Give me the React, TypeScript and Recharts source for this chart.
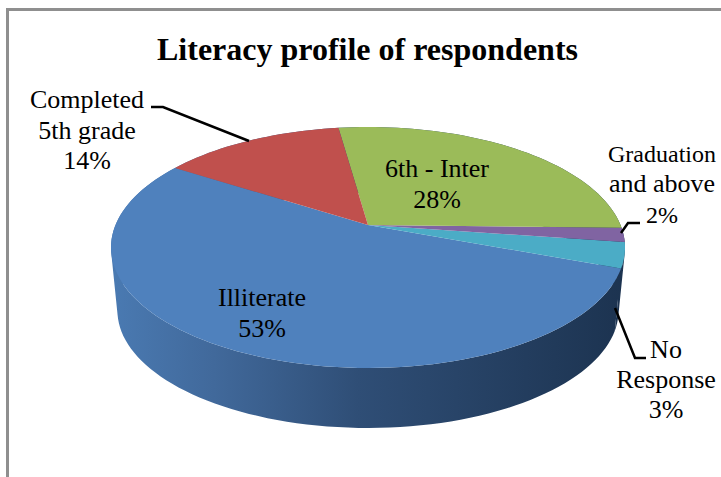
import React from 'react';
import { PieChart, Pie } from 'recharts';

const categories = ['Illiterate', 'No Response', 'Graduation and above', '6th - Inter', 'Completed 5th grade'];
const shares = [53.4, 3.4, 1.9, 27.6, 13.7];
const sliceColors = ['#4f81bd', '#4bacc6', '#8064a2', '#9bbb59', '#c0504d'];

const data = categories.map((name, i) => ({ name, value: shares[i], fill: sliceColors[i] }));

// label lines and where they sit, the pie itself comes from the scales
const labelLayout: Record<string, { x: number; ys: number[]; lines: string[]; sizes: number[] }> = {
  'Illiterate': { x: 262, ys: [306, 337], lines: ['Illiterate'], sizes: [26, 26] },
  'No Response': { x: 666, ys: [358, 388, 418], lines: ['No', 'Response'], sizes: [26, 26, 26] },
  'Graduation and above': { x: 662, ys: [162, 192, 223], lines: ['Graduation', 'and above'], sizes: [24, 26, 24] },
  '6th - Inter': { x: 437, ys: [177, 208], lines: ['6th - Inter'], sizes: [26, 26] },
  'Completed 5th grade': { x: 87, ys: [108, 139, 169], lines: ['Completed', '5th grade'], sizes: [26, 26, 26] },
};

const leaderLines: Record<string, string> = {
  'No Response': '615,308 635,358 646,358',
  'Graduation and above': '640,223 628,223 621,233',
  'Completed 5th grade': '151,107 163,107 249,141',
};

// fake 3D: the flat pie is tipped back with a small perspective
const PERSPECTIVE = 0.1867;
const SQUASH = 0.4606;
const DEPTH_SCALE = 0.975;
const RIM_CENTER_OFFSET = 22.5; // centre of the top ellipse below the apex
const DEPTH = 63;

type Pt = { x: number; y: number };

const project = (cx: number, cy: number, r: number, deg: number): Pt => {
  const rad = (deg * Math.PI) / 180;
  const w = 1 + PERSPECTIVE * Math.sin(rad);
  return {
    x: cx + (r * Math.cos(rad)) / w,
    y: cy - (r * SQUASH * Math.sin(rad)) / w,
  };
};

const projectBottom = (cx: number, cy: number, r: number, deg: number): Pt => {
  const p = project(cx, cy, r, deg);
  const midY = cy + RIM_CENTER_OFFSET;
  return {
    x: cx + (p.x - cx) * DEPTH_SCALE,
    y: midY + DEPTH + (p.y - midY) * DEPTH_SCALE,
  };
};

const sweep = (from: number, to: number) => {
  const steps = Math.max(2, Math.ceil(Math.abs(to - from) / 2));
  return Array.from({ length: steps + 1 }, (_, i) => from + ((to - from) * i) / steps);
};

const signedArea = (q: Pt[]) =>
  q.reduce((sum, p, i) => {
    const n = q[(i + 1) % q.length];
    return sum + p.x * n.y - n.x * p.y;
  }, 0);

const TopFace = (props: any) => {
  const { cx, cy, outerRadius, startAngle, endAngle, fill } = props;
  const rim = sweep(startAngle, endAngle).map((a) => project(cx, cy, outerRadius, a));
  const d = `M${cx},${cy} ` + rim.map((p) => `L${p.x},${p.y}`).join(' ') + ' Z';
  return <path d={d} fill={fill} />;
};

// quads all wound the same way in one path, so the union has no seams and
// the outline follows the sides of the disc
const SideWall = (props: any) => {
  const { cx, cy, outerRadius, startAngle, endAngle } = props;
  const angles = sweep(startAngle, endAngle);
  const d = angles
    .slice(1)
    .map((a, i) => {
      const quad = [
        project(cx, cy, outerRadius, angles[i]),
        project(cx, cy, outerRadius, a),
        projectBottom(cx, cy, outerRadius, a),
        projectBottom(cx, cy, outerRadius, angles[i]),
      ];
      if (signedArea(quad) < 0) quad.reverse();
      return quad.map((p, j) => `${j ? 'L' : 'M'}${p.x},${p.y}`).join(' ') + ' Z';
    })
    .join(' ');
  return <path d={d} fill="url(#wallShade)" fillRule="nonzero" />;
};

const renderLabel = (props: any) => {
  const layout = labelLayout[props.name];
  const texts = [...layout.lines, `${Math.round(props.value)}%`];
  return (
    <text textAnchor="middle" fill="#000" fontFamily="'Liberation Serif', serif">
      {texts.map((t, i) => (
        <tspan key={t} x={layout.x} y={layout.ys[i]} fontSize={layout.sizes[i]}>
          {t}
        </tspan>
      ))}
    </text>
  );
};

const renderLeader = (props: any) => {
  const points = leaderLines[props.name];
  if (!points) return <g />;
  return <polyline points={points} fill="none" stroke="#000" strokeWidth={2.5} />;
};

export default function App() {
  return (
    <div style={{ position: 'absolute', left: 0, top: 0, width: 721, height: 477, background: '#fff', overflow: 'hidden' }}>
      <div
        style={{
          position: 'absolute',
          left: 6,
          top: 8,
          width: 715,
          height: 469,
          boxSizing: 'border-box',
          borderLeft: '3px solid #8f8f8f',
          borderTop: '3px solid #8f8f8f',
        }}
      />
      <div style={{ position: 'absolute', left: 0, top: 0 }}>
        <PieChart width={721} height={477} margin={{ top: 0, right: 0, bottom: 0, left: 0 }}>
          <defs>
            <linearGradient id="wallShade" gradientUnits="userSpaceOnUse" x1="111" y1="0" x2="625" y2="0">
              <stop offset="0%" stopColor="#4a7ab2" />
              <stop offset="20%" stopColor="#41699b" />
              <stop offset="48%" stopColor="#2f4e76" />
              <stop offset="100%" stopColor="#1c3350" />
            </linearGradient>
          </defs>
          <text
            x={367.5}
            y={60}
            textAnchor="middle"
            fontFamily="'Liberation Serif', serif"
            fontWeight="bold"
            fontSize={32}
            fill="#000"
          >
            Literacy profile of respondents
          </text>
          <Pie
            data={data}
            dataKey="value"
            nameKey="name"
            cx={368}
            cy={225}
            outerRadius={252.5}
            startAngle={147.3}
            endAngle={507.3}
            stroke="none"
            shape={SideWall}
            isAnimationActive={false}
          />
          <Pie
            data={data}
            dataKey="value"
            nameKey="name"
            cx={368}
            cy={225}
            outerRadius={252.5}
            startAngle={147.3}
            endAngle={507.3}
            stroke="none"
            shape={TopFace}
            label={renderLabel}
            labelLine={renderLeader}
            isAnimationActive={false}
          />
        </PieChart>
      </div>
    </div>
  );
}
